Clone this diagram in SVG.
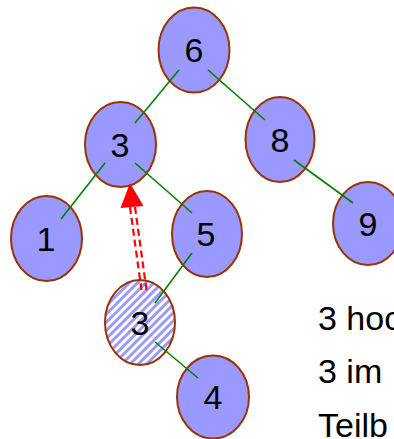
<svg xmlns="http://www.w3.org/2000/svg" width="394" height="439" viewBox="0 0 394 439">
  <style>
    .node { fill: #9999ff; stroke: #993300; stroke-width: 2; }
    .hatched { fill: url(#stripes); stroke: #993300; stroke-width: 2; }
    .label { font-family: "Liberation Sans", Arial, sans-serif; font-size: 34px; fill: #000; text-anchor: middle; }
    .edge { stroke: #008000; stroke-width: 1.6; fill: none; }
    .move { stroke: #ff0000; stroke-width: 2.2; stroke-dasharray: 7 4; fill: none; }
    .note { font-family: "Liberation Sans", Arial, sans-serif; font-size: 34px; fill: #000; }
  </style>
  <defs>
    <pattern id="stripes" patternUnits="userSpaceOnUse" width="5.8" height="5.8" patternTransform="rotate(45)">
      <rect width="5.8" height="5.8" fill="#ffffff"/>
      <rect width="2.9" height="5.8" fill="#9999ff"/>
    </pattern>
  </defs>

  <!-- tree nodes -->
  <g id="node-6">
    <ellipse class="node" cx="194" cy="50" rx="35.5" ry="42.5"/>
    <text class="label" x="194" y="62">6</text>
  </g>
  <g id="node-3">
    <ellipse class="node" cx="120.5" cy="144.5" rx="35.5" ry="42.5"/>
    <text class="label" x="120" y="157">3</text>
  </g>
  <g id="node-8">
    <ellipse class="node" cx="280" cy="139.5" rx="34.5" ry="42.5"/>
    <text class="label" x="280" y="152">8</text>
  </g>
  <g id="node-1">
    <ellipse class="node" cx="46.5" cy="238.5" rx="35.5" ry="42.5"/>
    <text class="label" x="46" y="251">1</text>
  </g>
  <g id="node-5">
    <ellipse class="node" cx="207" cy="234" rx="35" ry="43"/>
    <text class="label" x="206" y="246">5</text>
  </g>
  <g id="node-9">
    <ellipse class="node" cx="368" cy="223.5" rx="35" ry="41.5"/>
    <text class="label" x="368" y="236">9</text>
  </g>
  <g id="node-3-moved">
    <ellipse class="hatched" cx="140" cy="322.5" rx="35" ry="42.5"/>
    <text class="label" x="140" y="335">3</text>
  </g>
  <g id="node-4">
    <ellipse class="node" cx="213" cy="397" rx="36" ry="41.5"/>
    <text class="label" x="213" y="409">4</text>
  </g>

  <!-- connectors -->
  <g id="edges">
    <line class="edge" x1="179" y1="70" x2="135" y2="123"/>
    <line class="edge" x1="208" y1="70" x2="265" y2="120"/>
    <line class="edge" x1="105" y1="163" x2="61" y2="219"/>
    <line class="edge" x1="135" y1="163" x2="192" y2="213"/>
    <line class="edge" x1="294" y1="160" x2="353" y2="203"/>
    <line class="edge" x1="192" y1="253" x2="155" y2="303"/>
    <line class="edge" x1="155" y1="342" x2="198" y2="378"/>
  </g>

  <!-- replacement move: lower 3 goes up to the removed node -->
  <g id="move-arrow">
    <line class="move" x1="130" y1="207" x2="141.5" y2="290"/>
    <line class="move" x1="135" y1="207" x2="146.5" y2="290"/>
    <polygon points="130,183 120.5,208 143.5,206" fill="#ff0000"/>
  </g>

  <!-- side notes, running past the right edge -->
  <g id="notes">
    <text class="note" x="318" y="330">3 hoc</text>
    <text class="note" x="318" y="383">3 im</text>
    <text class="note" x="318" y="437">Teilb</text>
  </g>
</svg>
